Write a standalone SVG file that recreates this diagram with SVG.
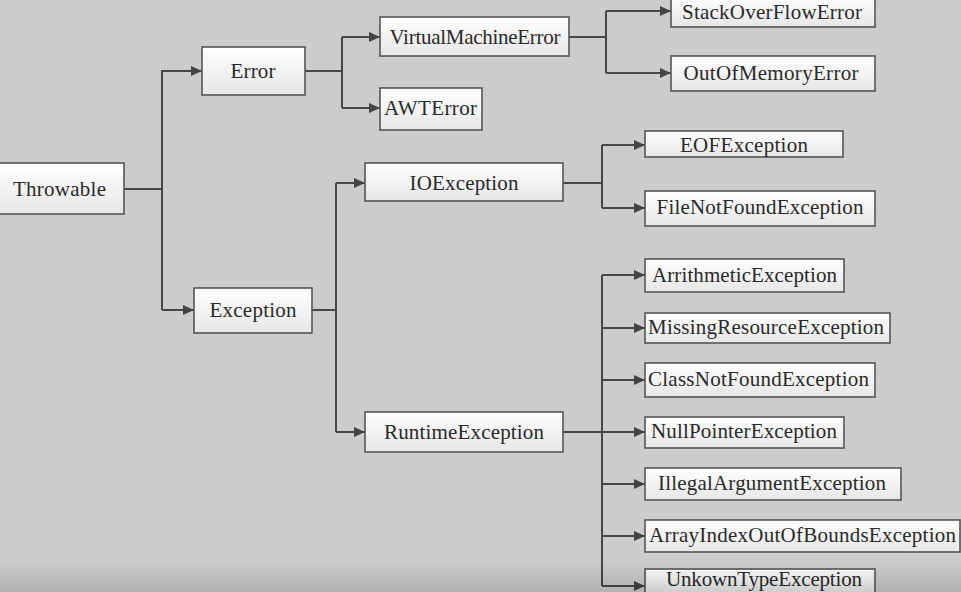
<svg xmlns="http://www.w3.org/2000/svg" width="961" height="592" viewBox="0 0 961 592">
<defs>
<linearGradient id="boxg" x1="0" y1="0" x2="0" y2="1">
<stop offset="0" stop-color="#ffffff"/>
<stop offset="1" stop-color="#e6e6e6"/>
</linearGradient>
<linearGradient id="shade" x1="0" y1="0" x2="0" y2="1">
<stop offset="0" stop-color="#000" stop-opacity="0"/>
<stop offset="1" stop-color="#000" stop-opacity="0.13"/>
</linearGradient>
<marker id="ah" markerUnits="userSpaceOnUse" markerWidth="12" markerHeight="10" refX="11" refY="5" orient="auto">
<path d="M0,0 L11,5 L0,10 Z" fill="#444"/>
</marker>
<style>
.box{fill:url(#boxg);stroke:#555;stroke-width:1.6}
text{font-family:Tinos,'Liberation Serif','Times New Roman',Times,'Noto Serif','DejaVu Serif','Nimbus Roman','FreeSerif',serif;font-size:21px;fill:#2a2a2a}
.c{text-anchor:middle}
.ln{fill:none;stroke:#474747;stroke-width:2}
.ar{fill:none;stroke:#474747;stroke-width:2;marker-end:url(#ah)}
</style>
</defs>
<rect x="0" y="0" width="961" height="592" fill="#cccccc"/>

<g id="connectors">
<path class="ln" d="M124,189 H162 M162,70 V310"/>
<path class="ar" d="M162,71 H202"/>
<path class="ar" d="M162,310 H194"/>
<path class="ln" d="M305,71 H342 M342,37 V108"/>
<path class="ar" d="M342,37 H380"/>
<path class="ar" d="M342,108 H380"/>
<path class="ln" d="M569,37 H606 M606,11 V73"/>
<path class="ar" d="M606,11 H671"/>
<path class="ar" d="M606,73 H671"/>
<path class="ln" d="M312,310 H336 M336,183 V432"/>
<path class="ar" d="M336,183 H365"/>
<path class="ar" d="M336,432 H365"/>
<path class="ln" d="M563,183 H602 M602,145 V208"/>
<path class="ar" d="M602,145 H645"/>
<path class="ar" d="M602,208 H645"/>
<path class="ln" d="M563,432 H602 M602,275 V586"/>
<path class="ar" d="M602,275 H645"/>
<path class="ar" d="M602,328 H645"/>
<path class="ar" d="M602,380 H645"/>
<path class="ar" d="M602,432 H645"/>
<path class="ar" d="M602,484 H645"/>
<path class="ar" d="M602,536 H645"/>
<path class="ar" d="M602,586 H645"/>
</g>

<g id="n-throwable"><rect class="box" x="-1" y="163" width="125" height="51"/><text class="c" x="59.5" y="196" textLength="93">Throwable</text></g>
<g id="n-error"><rect class="box" x="202" y="47" width="103" height="48"/><text class="c" x="253" y="78" textLength="45">Error</text></g>
<g id="n-exception"><rect class="box" x="194" y="288" width="118" height="45"/><text class="c" x="253" y="317" textLength="87">Exception</text></g>
<g id="n-vme"><rect class="box" x="380" y="17" width="189" height="39"/><text class="c" x="475" y="44" textLength="171">VirtualMachineError</text></g>
<g id="n-awt"><rect class="box" x="380" y="88" width="102" height="42"/><text x="384" y="115" textLength="93">AWTError</text></g>
<g id="n-stack"><rect class="box" x="671" y="-3" width="204" height="30"/><text class="c" x="772" y="19" textLength="180">StackOverFlowError</text></g>
<g id="n-oom"><rect class="box" x="671" y="56" width="204" height="35"/><text class="c" x="771" y="80" textLength="175">OutOfMemoryError</text></g>
<g id="n-io"><rect class="box" x="365" y="163" width="198" height="38"/><text class="c" x="464" y="190" textLength="109">IOException</text></g>
<g id="n-runtime"><rect class="box" x="365" y="412" width="198" height="40"/><text class="c" x="464" y="439" textLength="160">RuntimeException</text></g>
<g id="n-eof"><rect class="box" x="645" y="131" width="198" height="26"/><text class="c" x="744" y="152" textLength="128">EOFException</text></g>
<g id="n-fnf"><rect class="box" x="645" y="191" width="230" height="35"/><text class="c" x="760" y="214" textLength="207">FileNotFoundException</text></g>
<g id="n-arith"><rect class="box" x="645" y="259" width="199" height="33"/><text x="652" y="282" textLength="185">ArrithmeticException</text></g>
<g id="n-missing"><rect class="box" x="645" y="313" width="245" height="30"/><text x="648" y="334" textLength="236">MissingResourceException</text></g>
<g id="n-cnf"><rect class="box" x="645" y="363" width="230" height="34"/><text x="648" y="386" textLength="221">ClassNotFoundException</text></g>
<g id="n-npe"><rect class="box" x="645" y="417" width="199" height="31"/><text x="651" y="438" textLength="186">NullPointerException</text></g>
<g id="n-iae"><rect class="box" x="645" y="468" width="256" height="32"/><text x="658" y="490" textLength="228">IllegalArgumentException</text></g>
<g id="n-aioobe"><rect class="box" x="645" y="520" width="315" height="32"/><text x="649" y="542" textLength="307">ArrayIndexOutOfBoundsException</text></g>
<g id="n-unknown"><rect class="box" x="645" y="569" width="230" height="30"/><text x="666" y="586" textLength="196">UnkownTypeException</text></g>

<rect x="0" y="560" width="961" height="32" fill="url(#shade)"/>
</svg>
